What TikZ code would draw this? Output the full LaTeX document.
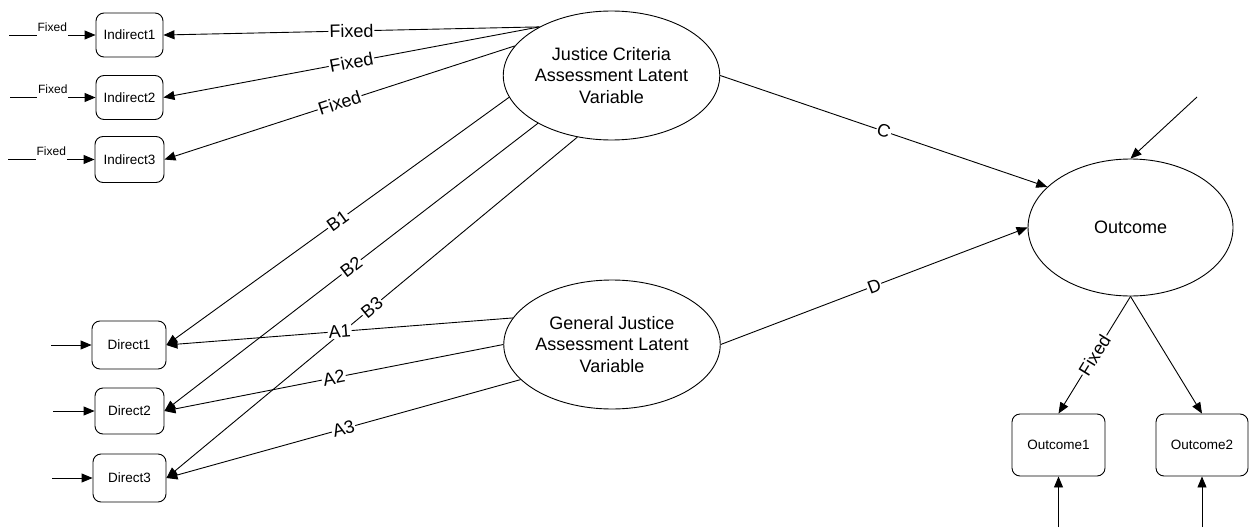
\documentclass[tikz,border=0pt]{standalone}
\usepackage{fontspec}
\setmainfont{Liberation Sans}
\usetikzlibrary{shapes.geometric,arrows.meta}
\begin{document}
\begin{tikzpicture}[x=1pt,y=-1pt,
  box/.style={draw, rounded corners=8pt, line width=0.9pt, inner sep=0pt, font=\fontsize{13.5}{13.5}\selectfont},
  latent/.style={draw, ellipse, line width=0.9pt, inner sep=0pt, align=center, font=\fontsize{18}{21.5}\selectfont},
  conn/.style={draw, line width=0.9pt, -{Triangle[length=11pt,width=9pt]}},
  lbl/.style={midway, sloped, fill=white, inner sep=1pt, font=\fontsize{18}{18}\selectfont},
  slbl/.style={midway, anchor=south, fill=white, inner xsep=1pt, inner ysep=4pt, yshift=-1pt, font=\fontsize{12}{12}\selectfont}]
\useasboundingbox (0,0) rectangle (1249,527);

\node[box, minimum width=67pt, minimum height=44pt] (ind1) at (129.5,35) {Indirect1};
\node[box, minimum width=67pt, minimum height=44pt] (ind2) at (129.5,97.5) {Indirect2};
\node[box, minimum width=69pt, minimum height=46pt] (ind3) at (129.5,159.5) {Indirect3};
\node[box, minimum width=74pt, minimum height=48pt] (dir1) at (129,345) {Direct1};
\node[box, minimum width=69pt, minimum height=46pt] (dir2) at (129.5,411) {Direct2};
\node[box, minimum width=73pt, minimum height=48pt] (dir3) at (129.5,478) {Direct3};
\node[box, minimum width=93pt, minimum height=62pt] (out1) at (1058.5,445) {Outcome1};
\node[box, minimum width=92pt, minimum height=62pt] (out2) at (1202,445) {Outcome2};
\node[latent, minimum width=197pt, minimum height=129pt] (jc) at (611.5,75.5) {Justice Criteria\\Assessment Latent\\Variable};
\node[latent, minimum width=196pt, minimum height=129pt] (gj) at (612,344.5) {General Justice\\Assessment Latent\\Variable};
\node[latent, minimum width=205pt, minimum height=137pt] (out) at (1130.5,227.5) {Outcome};

\coordinate (e1) at (9,35);
\coordinate (e2) at (10,97.5);
\coordinate (e3) at (8,159.5);
\coordinate (d1) at (51,345);
\coordinate (d2) at (53,411);
\coordinate (d3) at (52,478);
\coordinate (o1) at (1058.5,527);
\coordinate (o2) at (1202,527);
\coordinate (o0) at (1197,97);

\draw[conn] (e1) -- node[slbl]{Fixed} (ind1);
\draw[conn] (e2) -- node[slbl]{Fixed} (ind2);
\draw[conn] (e3) -- node[slbl]{Fixed} (ind3);
\draw[conn] (d1) -- (dir1);
\draw[conn] (d2) -- (dir2);
\draw[conn] (d3) -- (dir3);

\draw[conn] (jc.146) -- node[lbl]{Fixed} (ind1.east);
\draw[conn] (jc.146) -- node[lbl]{Fixed} (ind2.east);
\draw[conn] (jc.163) -- node[lbl]{Fixed} (ind3.east);
\draw[conn] (jc.192) -- node[lbl]{B1} (dir1.east);
\draw[conn] (jc.213) -- node[lbl]{B2} (dir2.east);
\draw[conn] (jc.241) -- node[lbl]{B3} (dir3.east);
\draw[conn] (gj.165) -- node[lbl]{A1} (dir1.east);
\draw[conn] (gj.180) -- node[lbl]{A2} (dir2.east);
\draw[conn] (gj.201) -- node[lbl]{A3} (dir3.east);
\draw[conn] (jc.0) -- node[lbl]{C} (out.154);
\draw[conn] (gj.0) -- node[lbl]{D} (out.west);
\draw[conn] (o0) -- (out.north);
\draw[conn] (out.south) -- node[lbl]{Fixed} (out1.north);
\draw[conn] (out.south) -- (out2.north);
\draw[conn] (o1) -- (out1.south);
\draw[conn] (o2) -- (out2.south);
\end{tikzpicture}
\end{document}
